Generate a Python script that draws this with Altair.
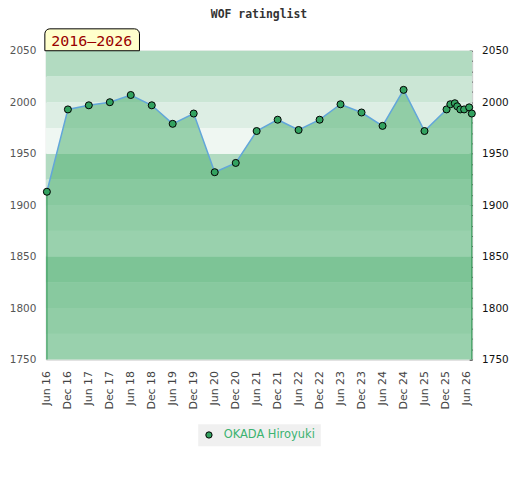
import altair as alt
import pandas as pd

title_text = "WOF ratinglist"
period_label = "2016–2026"
player = "OKADA Hiroyuki"

dates = ["2016-06-01", "2016-12-01", "2017-06-01", "2017-12-01", "2018-06-01",
         "2018-12-01", "2019-06-01", "2019-12-01", "2020-06-01", "2020-12-01",
         "2021-06-01", "2021-12-01", "2022-06-01", "2022-12-01", "2023-06-01",
         "2023-12-01", "2024-06-01", "2024-12-01", "2025-06-01", "2025-12-10",
         "2026-01-12", "2026-02-20", "2026-03-13", "2026-04-09", "2026-05-12",
         "2026-06-25", "2026-07-18"]
ratings = [1913, 1993, 1997, 2000, 2007, 1997, 1979, 1989, 1932, 1941,
           1972, 1983, 1973, 1983, 1998, 1990, 1977, 2012, 1972, 1993,
           1998, 1999, 1996, 1993, 1993, 1995, 1989]

# x tick positions (Jun / Dec of each year)
tick_years = list(range(2016, 2027))
tick_dates = []
for yr in tick_years:
    tick_dates.append((yr, 6))
    if yr < 2026:
        tick_dates.append((yr, 12))

# background rating bands
band_lo = [1750, 1775, 1800, 1825, 1850, 1875, 1900, 1925, 1950, 1975, 2000, 2025]
band_colors = ["#eff7f2", "#ddeee4", "#cbe6d5", "#b2dbc1"] * 3

y_min, y_max = 1750, 2050
W, H = 428, 310

df = pd.DataFrame({"date": dates, "rating": ratings, "player": [player] * len(dates)})
edges = df.iloc[[0, -1]].copy()
bands = pd.DataFrame({"lo": band_lo, "hi": [b + 25 for b in band_lo], "color": band_colors})
lab = pd.DataFrame({"label": [period_label], "title": [title_text]})

xscale = alt.Scale(type="utc", domain=[alt.DateTime(year=2016, month=5, date=23, utc=True),
                                       alt.DateTime(year=2026, month=7, date=21, utc=True)])
yscale = alt.Scale(domain=[y_min, y_max], nice=False, zero=False)

x_axis = alt.Axis(values=[alt.DateTime(year=y, month=m, date=1, utc=True) for y, m in tick_dates],
                  format="%b %y", labelAngle=270, labelFontSize=11, labelFont="DejaVu Sans",
                  labelColor="#444", ticks=False, domain=False, grid=False, labelPadding=11,
                  title=None, labelOverlap=False)

left_axis = alt.Axis(orient="left", values=list(range(1750, 2051, 50)), format="d", ticks=False,
                     domain=False, grid=False, labelPadding=10, labelFontSize=10.5,
                     labelFont="DejaVu Sans", labelColor="#555", title=None)
right_axis = alt.Axis(orient="right", values=list(range(1750, 2051, 10)), format="d",
                      labelExpr="datum.value % 50 == 0 ? datum.label : ''",
                      ticks=True, tickSize=3, tickColor="#000", offset=-3, domain=False,
                      grid=False, labelPadding=9.5, labelFontSize=10.5, labelFont="DejaVu Sans",
                      labelColor="#111", title=None, labelOverlap=False)

X = alt.X("date:T", scale=xscale, axis=x_axis)

bg = alt.Chart(bands).mark_rect().encode(
    x=alt.value(0), x2=alt.value(W),
    y=alt.Y("lo:Q", scale=yscale, axis=None), y2="hi:Q",
    fill=alt.Fill("color:N", scale=None),
)

area = alt.Chart(df).mark_area(color="#4eaf70", opacity=0.53).encode(
    x=X,
    y=alt.Y("rating:Q", scale=yscale, axis=left_axis),
    y2=alt.datum(1750),
)

edge_rules = alt.Chart(edges).mark_rule(color="#3a9d5d", strokeWidth=1.2).encode(
    x=X,
    y=alt.Y("rating:Q", scale=yscale, axis=None),
    y2=alt.datum(1750),
)

line = alt.Chart(df).mark_line(color="#62a6da", strokeWidth=1.5).encode(
    x=X,
    y=alt.Y("rating:Q", scale=yscale, axis=None),
)

points = alt.Chart(df).mark_point(filled=True, size=50, stroke="#000", strokeWidth=1, opacity=1).encode(
    x=X,
    y=alt.Y("rating:Q", scale=yscale, axis=right_axis),
    color=alt.Color("player:N", scale=alt.Scale(domain=[player], range=["#33a260"]),
                    legend=alt.Legend(title=None, orient="none", legendX=153, legendY=375,
                                      fillColor="#f0f0f0", padding=5, labelColor="#3cb371",
                                      labelFontSize=11.5, labelFont="DejaVu Sans",
                                      symbolType="circle", symbolSize=40,
                                      symbolStrokeColor="#000", symbolStrokeWidth=1,
                                      labelOffset=9)),
)

box = alt.Chart(lab).mark_rect(fill="#ffffcc", stroke="#000", strokeWidth=1,
                               cornerRadiusTopLeft=5, cornerRadiusTopRight=5).encode(
    x=alt.value(-1), x2=alt.value(94), y=alt.value(-22), y2=alt.value(0),
)
box_text = alt.Chart(lab).mark_text(align="left", baseline="alphabetic", font="DejaVu Sans Mono",
                                    fontSize=15, color="#990000").encode(
    x=alt.value(5.5), y=alt.value(-5), text="label:N",
)
title_mark = alt.Chart(lab).mark_text(align="center", baseline="alphabetic", font="DejaVu Sans Mono",
                                      fontSize=11.5, fontWeight="bold", color="#333").encode(
    x=alt.value(W / 2), y=alt.value(-33), text="title:N",
)

chart = alt.layer(bg, area, edge_rules, line, points, box, box_text, title_mark).resolve_axis(
    y="independent"
).properties(
    width=W, height=H,
    autosize=alt.AutoSizeParams(type="none"),
    padding={"left": 38, "top": 42, "right": 40, "bottom": 110},
).configure_view(stroke="#c8c8c8", strokeWidth=1)

chart.save("out.html", embed_options={"renderer": "svg", "actions": False})
